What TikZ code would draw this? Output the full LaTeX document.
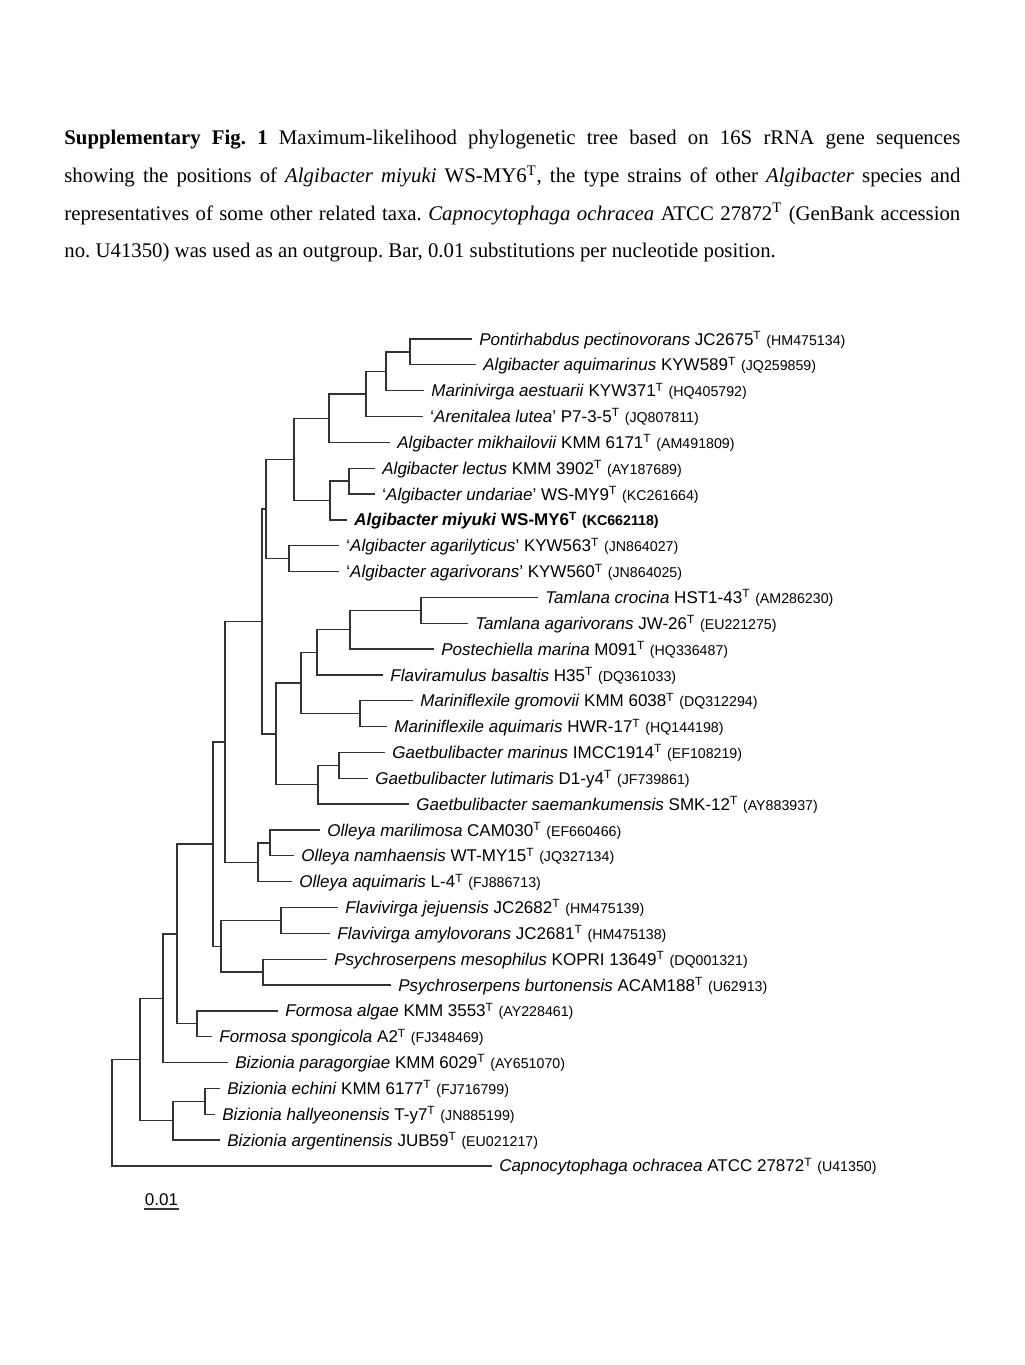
\documentclass[tikz,border=0pt]{standalone}
\usepackage{fontspec}
\setmainfont{Liberation Serif}
\newfontfamily\arialfam{Liberation Sans}
\newcommand{\supT}{\textsuperscript{T}}
\newcommand{\accno}[1]{{\fontsize{7.1pt}{8pt}\selectfont(#1)}}
\begin{document}
\begin{tikzpicture}[x=0.5pt,y=-0.5pt,
  taxon/.style={anchor=west, font=\arialfam\fontsize{8.5pt}{10pt}\selectfont, inner xsep=3.5pt, inner ysep=0pt, text height=6.1pt, text depth=0pt},
  branch/.style={draw=black!80, line width=0.65pt}]
  \useasboundingbox (0,0) rectangle (1024,1365);
  % légende
  \node[anchor=north west, inner sep=0pt, text width=448pt, align=justify,
        font=\fontsize{10.4pt}{18.85pt}\selectfont] (legend) at (64,130)
    {\noindent\frenchspacing\tolerance=10000 \textbf{Supplementary Fig. 1} Maximum-likelihood phylogenetic tree based on 16S rRNA gene sequences\linebreak
     showing the positions of \textit{Algibacter miyuki} WS-MY6\textsuperscript{T}, the type strains of other \textit{Algibacter} species and\linebreak
     representatives of some other related taxa. \textit{Capnocytophaga ochracea} ATCC 27872\textsuperscript{T} (GenBank accession\linebreak
     no. U41350) was used as an outgroup. Bar, 0.01 substitutions per nucleotide position.};
  \begin{scope}[y=-12.92pt, yshift=-156.58pt]
  % taxons
  \node[taxon] (pont) at (472, 1) {\textit{Pontirhabdus pectinovorans} JC2675\supT\ \accno{HM475134}};
  \node[taxon] (aquim) at (476, 2) {\textit{Algibacter aquimarinus} KYW589\supT\ \accno{JQ259859}};
  \node[taxon] (marv) at (424, 3) {\textit{Marinivirga aestuarii} KYW371\supT\ \accno{HQ405792}};
  \node[taxon] (aren) at (423, 4) {‘\textit{Arenitalea lutea}’ P7-3-5\supT\ \accno{JQ807811}};
  \node[taxon] (mikh) at (390, 5) {\textit{Algibacter mikhailovii} KMM 6171\supT\ \accno{AM491809}};
  \node[taxon] (lect) at (375, 6) {\textit{Algibacter lectus} KMM 3902\supT\ \accno{AY187689}};
  \node[taxon] (unda) at (375, 7) {‘\textit{Algibacter undariae}’ WS-MY9\supT\ \accno{KC261664}};
  \node[taxon, font=\arialfam\bfseries\fontsize{8.5pt}{10pt}\selectfont] (miyu) at (347, 8) {\textit{Algibacter miyuki} WS-MY6\supT\ \accno{KC662118}};
  \node[taxon] (agly) at (339, 9) {‘\textit{Algibacter agarilyticus}’ KYW563\supT\ \accno{JN864027}};
  \node[taxon] (agvo) at (339,10) {‘\textit{Algibacter agarivorans}’ KYW560\supT\ \accno{JN864025}};
  \node[taxon] (tcro) at (538,11) {\textit{Tamlana crocina} HST1-43\supT\ \accno{AM286230}};
  \node[taxon] (taga) at (468,12) {\textit{Tamlana agarivorans} JW-26\supT\ \accno{EU221275}};
  \node[taxon] (post) at (434,13) {\textit{Postechiella marina} M091\supT\ \accno{HQ336487}};
  \node[taxon] (flar) at (383,14) {\textit{Flaviramulus basaltis} H35\supT\ \accno{DQ361033}};
  \node[taxon] (mgro) at (413,15) {\textit{Mariniflexile gromovii} KMM 6038\supT\ \accno{DQ312294}};
  \node[taxon] (maqu) at (387,16) {\textit{Mariniflexile aquimaris} HWR-17\supT\ \accno{HQ144198}};
  \node[taxon] (gmar) at (385,17) {\textit{Gaetbulibacter marinus} IMCC1914\supT\ \accno{EF108219}};
  \node[taxon] (glut) at (368,18) {\textit{Gaetbulibacter lutimaris} D1-y4\supT\ \accno{JF739861}};
  \node[taxon] (gsae) at (409,19) {\textit{Gaetbulibacter saemankumensis} SMK-12\supT\ \accno{AY883937}};
  \node[taxon] (omar) at (320,20) {\textit{Olleya marilimosa} CAM030\supT\ \accno{EF660466}};
  \node[taxon] (onam) at (294,21) {\textit{Olleya namhaensis} WT-MY15\supT\ \accno{JQ327134}};
  \node[taxon] (oaqu) at (292,22) {\textit{Olleya aquimaris} L-4\supT\ \accno{FJ886713}};
  \node[taxon] (fjej) at (338,23) {\textit{Flavivirga jejuensis} JC2682\supT\ \accno{HM475139}};
  \node[taxon] (famy) at (330,24) {\textit{Flavivirga amylovorans} JC2681\supT\ \accno{HM475138}};
  \node[taxon] (pmes) at (327,25) {\textit{Psychroserpens mesophilus} KOPRI 13649\supT\ \accno{DQ001321}};
  \node[taxon] (pbur) at (391,26) {\textit{Psychroserpens burtonensis} ACAM188\supT\ \accno{U62913}};
  \node[taxon] (falg) at (278,27) {\textit{Formosa algae} KMM 3553\supT\ \accno{AY228461}};
  \node[taxon] (fspo) at (212,28) {\textit{Formosa spongicola} A2\supT\ \accno{FJ348469}};
  \node[taxon] (bpar) at (228,29) {\textit{Bizionia paragorgiae} KMM 6029\supT\ \accno{AY651070}};
  \node[taxon] (bech) at (220,30) {\textit{Bizionia echini} KMM 6177\supT\ \accno{FJ716799}};
  \node[taxon] (bhal) at (215,31) {\textit{Bizionia hallyeonensis} T-y7\supT\ \accno{JN885199}};
  \node[taxon] (barg) at (220,32) {\textit{Bizionia argentinensis} JUB59\supT\ \accno{EU021217}};
  \node[taxon] (capn) at (492,33) {\textit{Capnocytophaga ochracea} ATCC 27872\supT\ \accno{U41350}};
  % noeuds internes
  \coordinate (nPA) at (410,1.5);
  \coordinate (nPAM) at (386,2.25);
  \coordinate (nPAMA) at (366,3.125);
  \coordinate (nMik) at (329,4.063);
  \coordinate (nLU) at (349,6.5);
  \coordinate (nLUM) at (330,7.25);
  \coordinate (nAlg) at (294,5.656);
  \coordinate (nAgar) at (289,9.5);
  \coordinate (nAlg2) at (266,7.578);
  \coordinate (nTam) at (421,11.5);
  \coordinate (nPost) at (350,12.25);
  \coordinate (nFlr) at (317,13.125);
  \coordinate (nMf) at (360,15.5);
  \coordinate (nFM) at (301,14.313);
  \coordinate (nGL) at (339,17.5);
  \coordinate (nGS) at (318,18.25);
  \coordinate (nFG) at (276,16.281);
  \coordinate (nUp) at (262,11.93);
  \coordinate (nOl) at (270,20.5);
  \coordinate (nOl2) at (258,21.25);
  \coordinate (nA) at (225,16.59);
  \coordinate (nFv) at (281,23.5);
  \coordinate (nPs) at (263,25.5);
  \coordinate (nFP) at (221,24.5);
  \coordinate (nB) at (213,20.545);
  \coordinate (nFo) at (197,27.5);
  \coordinate (nC) at (177,24.023);
  \coordinate (nD) at (163,26.511);
  \coordinate (nBE) at (205,30.5);
  \coordinate (nBA) at (173,31.25);
  \coordinate (nE) at (140,28.881);
  \coordinate (nRoot) at (112,30.94);
  % branches
  \foreach \p/\a/\b in {nPA/pont/aquim, nPAM/nPA/marv, nPAMA/nPAM/aren, nMik/nPAMA/mikh,
      nLU/lect/unda, nLUM/nLU/miyu, nAlg/nMik/nLUM, nAgar/agly/agvo, nAlg2/nAlg/nAgar,
      nTam/tcro/taga, nPost/nTam/post, nFlr/nPost/flar, nMf/mgro/maqu, nFM/nFlr/nMf,
      nGL/gmar/glut, nGS/nGL/gsae, nFG/nFM/nGS, nUp/nAlg2/nFG,
      nOl/omar/onam, nOl2/nOl/oaqu, nA/nUp/nOl2,
      nFv/fjej/famy, nPs/pmes/pbur, nFP/nFv/nPs, nB/nA/nFP,
      nFo/falg/fspo, nC/nB/nFo, nD/nC/bpar,
      nBE/bech/bhal, nBA/nBE/barg, nE/nD/nBA, nRoot/nE/capn}
    \draw[branch] (\a) -| (\p) |- (\b);
  \end{scope}
  % barre d'échelle
  \node[taxon, anchor=base, inner xsep=0pt] (sbar) at (161.5,1205) {0.01};
  \coordinate (sbL) at (144,1209);
  \coordinate (sbR) at (179,1209);
  \draw[branch] (sbL) -- (sbR);
\end{tikzpicture}
\end{document}
